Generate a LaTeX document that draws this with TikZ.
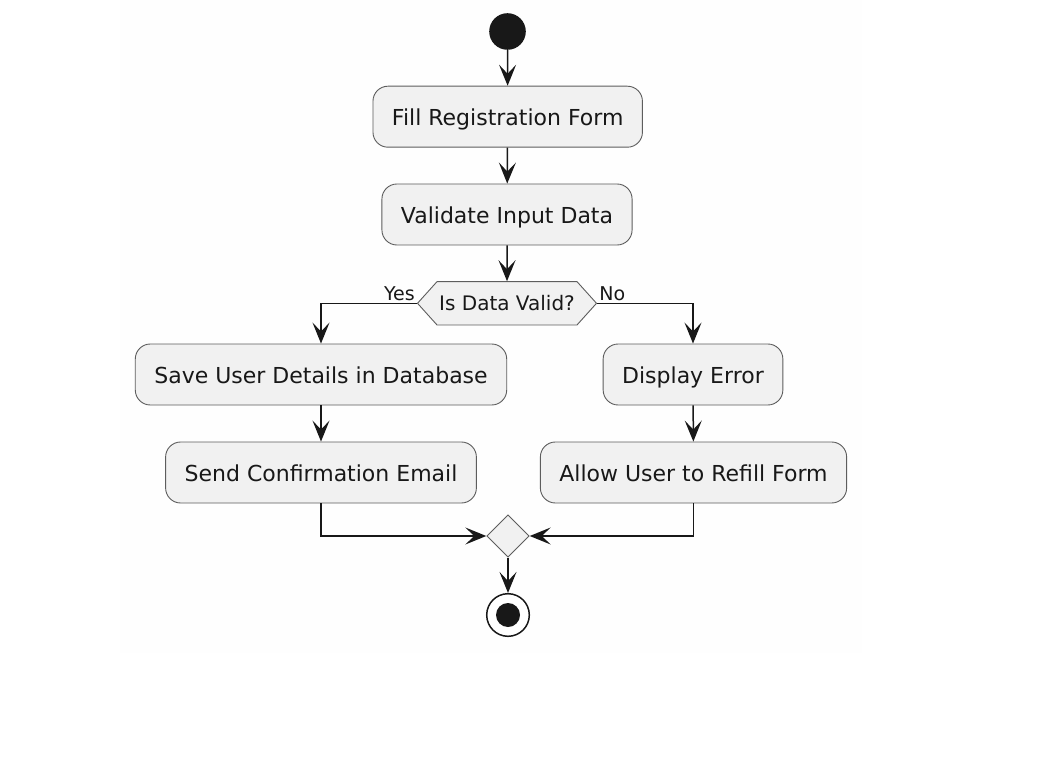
\documentclass[tikz,border=0pt]{standalone}
\usepackage{fontspec}
\setmainfont{DejaVu Sans}
\usetikzlibrary{arrows.meta,shapes.geometric,shapes.symbols}
\definecolor{ink}{HTML}{181818}
\definecolor{boxfill}{HTML}{F1F1F1}
\definecolor{pagefill}{HTML}{FEFEFE}
\begin{document}
\begin{tikzpicture}[x=1pt, y=-1pt,
    action/.style={draw=ink!70, fill=boxfill, rounded corners=15pt, line width=0.9pt,
      minimum height=61pt, inner xsep=19pt, text height=17.6pt, text depth=0pt,
      text=ink, font=\fontsize{22}{26}\selectfont},
    check/.style={draw=ink!70, fill=boxfill, signal, signal to=east and west,
      signal pointer angle=96, minimum height=43.3pt, minimum width=179pt, inner sep=0pt,
      line width=0.9pt, text=ink, font=\fontsize{20}{24}\selectfont},
    mergebox/.style={draw=ink!70, fill=boxfill, diamond, minimum size=42.5pt, inner sep=0pt,
      line width=0.9pt},
    flow/.style={draw=ink, line width=1.5pt, -{Stealth[length=21pt, width=17pt, inset=9pt]}},
    tag/.style={text=ink, inner sep=2pt, font=\fontsize{19}{22}\selectfont}
  ]
    \useasboundingbox (0,0) rectangle (1040,783);
    \fill[pagefill] (120,0) rectangle (862,653);

    % Nodes
    \node[circle, fill=ink, minimum size=36.6pt, inner sep=0pt] (start) at (507.5,31.5) {};
    \node[action] (fill) at (507.7,116.7) {Fill Registration Form};
    \node[action] (validate) at (507,214.5) {Validate Input Data};
    \node[check] (valid) at (507,303.3) {Is Data Valid?};
    \node[action] (save) at (321,374.5) {Save User Details in Database};
    \node[action] (display) at (693,374.5) {Display Error};
    \node[action] (confirm) at (321,472.5) {Send Confirmation Email};
    \node[action] (refill) at (693.5,472.5) {Allow User to Refill Form};
    \node[mergebox] (merge) at (508,536) {};
    \node[circle, draw=ink, line width=1.5pt, fill=white, minimum size=42.6pt, inner sep=0pt] (stop) at (508,615) {};
    \fill[ink] (stop.center) circle [radius=12pt];

    % Text on the branches
    \node[tag, anchor=south east] at (valid.west) {Yes};
    \node[tag, anchor=south west] at (valid.east) {No};

    % Connection
    \draw[flow] (start) -- (fill);
    \draw[flow] (fill) -- (validate);
    \draw[flow] (validate) -- (valid);
    \draw[flow] (valid.west) -| (save);
    \draw[flow] (valid.east) -| (display);
    \draw[flow] (save) -- (confirm);
    \draw[flow] (display) -- (refill);
    \draw[flow] (confirm) |- (merge);
    \draw[flow] (refill) |- (merge);
    \draw[flow] (merge) -- (stop);
  \end{tikzpicture}
\end{document}
